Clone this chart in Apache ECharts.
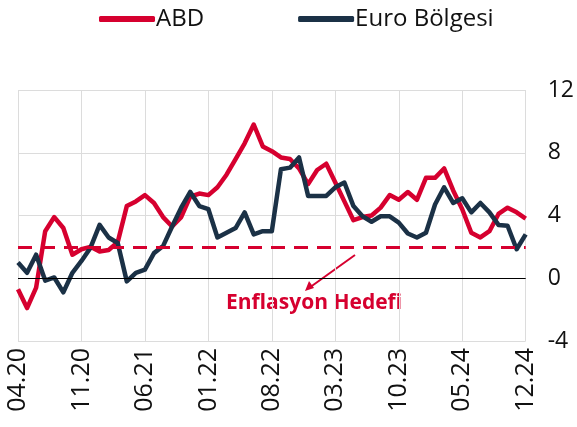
<!DOCTYPE html>
<html><head><meta charset="utf-8">
<script src="https://cdn.jsdelivr.net/npm/echarts@6/dist/echarts.min.js"></script>
<style>html,body{margin:0;padding:0;background:#fff}#c{width:577px;height:427px}</style>
</head><body><div id="c"></div>
<script>
var categories = ['04.20','05.20','06.20','07.20','08.20','09.20','10.20','11.20','12.20',
'01.21','02.21','03.21','04.21','05.21','06.21','07.21','08.21','09.21','10.21','11.21','12.21',
'01.22','02.22','03.22','04.22','05.22','06.22','07.22','08.22','09.22','10.22','11.22','12.22',
'01.23','02.23','03.23','04.23','05.23','06.23','07.23','08.23','09.23','10.23','11.23','12.23',
'01.24','02.24','03.24','04.24','05.24','06.24','07.24','08.24','09.24','10.24','11.24','12.24'];
var abd = [-0.7,-1.9,-0.6,3.0,3.9,3.2,1.5,1.85,2.0,1.7,1.8,2.3,4.6,4.9,5.3,4.8,3.9,3.3,3.9,5.2,5.4,
5.3,5.8,6.6,7.6,8.6,9.8,8.4,8.1,7.7,7.6,7.0,6.0,6.9,7.3,6.1,4.9,3.7,3.9,4.0,4.5,5.3,5.0,5.5,5.0,
6.4,6.4,7.0,5.6,4.4,2.9,2.6,3.0,4.1,4.5,4.2,3.8];
var euro = [1.0,0.35,1.5,-0.15,0.05,-0.9,0.35,1.1,1.95,3.4,2.6,2.25,-0.2,0.35,0.55,1.6,2.05,3.3,4.5,5.5,4.6,
4.4,2.6,2.9,3.2,4.2,2.8,3.0,3.0,6.95,7.05,7.7,5.25,5.25,5.25,5.8,6.1,4.6,3.95,3.6,3.95,3.95,3.55,2.85,2.6,
2.9,4.7,5.8,4.8,5.1,4.2,4.8,4.2,3.4,3.35,1.85,2.8];
var target = 2;
var yTicks = {min: -4, max: 12, interval: 4};

var RED = '#d6002f', NAVY = '#1b3146';
var chart = echarts.init(document.getElementById('c'), null, {renderer: 'canvas'});
chart.setOption({
  animation: false,
  textStyle: {fontFamily: 'Open Sans'},
  legend: {
    top: 2, left: 94, itemWidth: 56, itemHeight: 6, itemGap: 94,
    icon: 'roundRect',
    textStyle: {fontSize: 24, color: '#111', fontFamily: 'Open Sans', padding: [0,0,0,-4]},
    data: ['ABD', 'Euro Bölgesi']
  },
  grid: {left: 18, right: 50, top: 90, bottom: 86, containLabel: false},
  xAxis: {
    type: 'category', data: categories, boundaryGap: false,
    axisLine: {show: false}, axisTick: {show: false},
    axisLabel: {interval: 6, rotate: 90, fontSize: 25, color: '#111', margin: 7, fontFamily: 'Open Sans'},
    splitLine: {show: true, interval: 6, lineStyle: {color: '#dcdcdc', width: 1}}
  },
  yAxis: {
    type: 'value', position: 'right', min: yTicks.min, max: yTicks.max, interval: yTicks.interval,
    axisLine: {show: false}, axisTick: {show: false},
    axisLabel: {fontSize: 23, color: '#111', margin: 22, fontFamily: 'Open Sans'},
    splitLine: {lineStyle: {color: '#dcdcdc', width: 1}}
  },
  series: [
    {
      name: 'ABD', type: 'line', data: abd, symbol: 'none',
      lineStyle: {color: RED, width: 4.5, join: 'round'}, itemStyle: {color: RED},
      markLine: {silent: true, symbol: 'none', label: {show: false},
        lineStyle: {color: RED, width: 3, type: [14, 9]},
        data: [{yAxis: target}]}
    },
    {
      name: 'Euro Bölgesi', type: 'line', data: euro, symbol: 'none',
      lineStyle: {color: NAVY, width: 4.5, join: 'round'}, itemStyle: {color: NAVY},
      markLine: {silent: true, symbol: 'none', label: {show: false},
        lineStyle: {color: '#000', width: 1, type: 'solid'},
        data: [{yAxis: 0}]}
    }
  ],
  graphic: [
    {type: 'line', shape: {x1: 355, y1: 255, x2: 309, y2: 288}, style: {stroke: RED, lineWidth: 2}},
    {type: 'polygon', shape: {points: [[305, 291], [309, 281], [314, 288]]}, style: {fill: RED}},
    {type: 'text', left: 226, top: 293, style: {text: 'Enflasyon Hedefi', fill: RED, fontSize: 21, fontWeight: 'bold', fontFamily: 'Open Sans'}}
  ]
});
</script></body></html>
